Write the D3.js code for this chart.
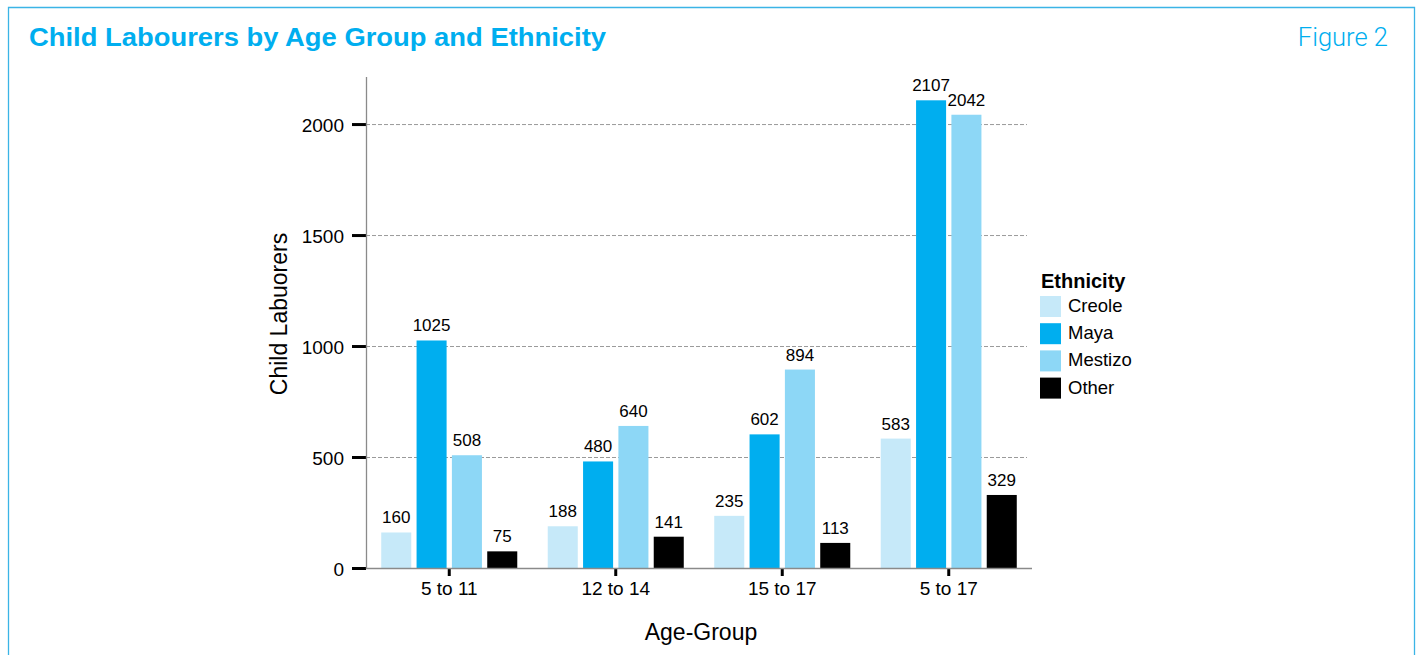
<!DOCTYPE html>
<html>
<head>
<meta charset="utf-8">
<script src="https://cdn.jsdelivr.net/npm/d3@7"></script>
<style>
  body { margin: 0; background: #fff; }
  svg { display: block; font-family: "Liberation Sans", Arial, Helvetica, sans-serif; }
</style>
</head>
<body>
<svg></svg>
<script>
var ageGroups = ["5 to 11", "12 to 14", "15 to 17", "5 to 17"];
var ethnicities = ["Creole", "Maya", "Mestizo", "Other"];
var creole = [160, 188, 235, 583];
var maya = [1025, 480, 602, 2107];
var mestizo = [508, 640, 894, 2042];
var other = [75, 141, 113, 329];
var yTicks = [0, 500, 1000, 1500, 2000];
var colors = ["#c6e9f9", "#00aeef", "#8dd7f6", "#000000"];

var series = [creole, maya, mestizo, other];
var data = ageGroups.map((g, i) => ({
    group: g,
    values: ethnicities.map((e, j) => ({ key: e, value: series[j][i] }))
}));

var width = 1422,
    height = 655,
    blue = "#00aeef";

var svg = d3.select("svg")
    .attr("width", width)
    .attr("height", height);

// frame
svg.append("path")
    .attr("d", "M8.5,660 V7.5 H1414.5 V660")
    .attr("fill", "none")
    .attr("stroke", "#3bb4e6")
    .attr("stroke-width", 1.3);

svg.append("text")
    .attr("x", 29)
    .attr("y", 46)
    .attr("fill", blue)
    .attr("font-size", 26)
    .attr("font-weight", "bold")
    .attr("textLength", 577)
    .attr("lengthAdjust", "spacingAndGlyphs")
    .text("Child Labourers by Age Group and Ethnicity");

svg.append("text")
    .attr("x", 1388)
    .attr("y", 46)
    .attr("text-anchor", "end")
    .attr("fill", blue)
    .attr("font-size", 25.5)
    .style("font-family", "Roboto, 'Liberation Sans', sans-serif")
    .attr("font-weight", 300)
    .text("Figure 2");

var x0 = d3.scaleBand()
    .domain(ageGroups)
    .range([366, 1032])
    .paddingInner(0.183)
    .paddingOuter(0.0915);

var x1 = d3.scaleBand()
    .domain(ethnicities)
    .range([0, x0.bandwidth()])
    .paddingInner(0.15);

var y = d3.scaleLinear()
    .domain([0, 2212])
    .range([568, 77]);

var color = d3.scaleOrdinal()
    .domain(ethnicities)
    .range(colors);

// gridlines
svg.append("g")
    .selectAll("line")
    .data(yTicks.slice(1))
    .enter().append("line")
    .attr("x1", 366)
    .attr("x2", 1027)
    .attr("y1", d => y(d) + 0.5)
    .attr("y2", d => y(d) + 0.5)
    .attr("stroke", "#9a9a9a")
    .attr("stroke-width", 1)
    .attr("stroke-dasharray", "4,2");

// y axis
var yAxis = svg.append("g")
    .attr("transform", "translate(366,0)")
    .call(d3.axisLeft(y).tickValues(yTicks).tickFormat(d3.format("d")).tickSize(14).tickPadding(8));
yAxis.select(".domain").remove();
yAxis.selectAll(".tick line").attr("stroke", "#000").attr("stroke-width", 3);
yAxis.selectAll(".tick text")
    .attr("font-size", 19)
    .attr("font-family", "'Liberation Sans', Arial, sans-serif")
    .attr("fill", "#000")
    .attr("dy", "0.4em");

svg.append("line")
    .attr("x1", 366.5).attr("x2", 366.5)
    .attr("y1", 77).attr("y2", 569)
    .attr("stroke", "#8a8a8a")
    .attr("stroke-width", 1.3);

// x axis
var xAxis = svg.append("g")
    .attr("transform", "translate(0,568)")
    .call(d3.axisBottom(x0).tickSize(8).tickPadding(6));
xAxis.select(".domain").remove();
xAxis.selectAll(".tick line").attr("stroke", "#000").attr("stroke-width", 3);
xAxis.selectAll(".tick text")
    .attr("font-size", 19)
    .attr("font-family", "'Liberation Sans', Arial, sans-serif")
    .attr("fill", "#000");

// bars
var groups = svg.append("g")
    .selectAll("g")
    .data(data)
    .enter().append("g")
    .attr("transform", d => "translate(" + x0(d.group) + ",0)");

groups.selectAll("rect")
    .data(d => d.values)
    .enter().append("rect")
    .attr("x", d => x1(d.key))
    .attr("y", d => y(d.value))
    .attr("width", x1.bandwidth())
    .attr("height", d => y(0) - y(d.value))
    .attr("fill", d => color(d.key));

groups.selectAll("text")
    .data(d => d.values)
    .enter().append("text")
    .attr("x", d => x1(d.key) + x1.bandwidth() / 2)
    .attr("y", d => y(d.value) - 9)
    .attr("text-anchor", "middle")
    .attr("font-size", 17)
    .attr("fill", "#000")
    .text(d => d.value);

// baseline drawn over bars
svg.append("line")
    .attr("x1", 366).attr("x2", 1032)
    .attr("y1", 568.5).attr("y2", 568.5)
    .attr("stroke", "#8a8a8a")
    .attr("stroke-width", 1.3);

// axis titles
svg.append("text")
    .attr("transform", "translate(287,314) rotate(-90)")
    .attr("text-anchor", "middle")
    .attr("font-size", 23)
    .attr("fill", "#000")
    .text("Child Labuorers");

svg.append("text")
    .attr("x", 701)
    .attr("y", 640)
    .attr("text-anchor", "middle")
    .attr("font-size", 23)
    .attr("fill", "#000")
    .text("Age-Group");

// legend
var legend = svg.append("g")
    .attr("transform", "translate(1040,0)");

legend.append("text")
    .attr("x", 1)
    .attr("y", 288)
    .attr("font-size", 20)
    .attr("font-weight", "bold")
    .attr("fill", "#000")
    .text("Ethnicity");

var items = legend.selectAll("g.item")
    .data(ethnicities)
    .enter().append("g")
    .attr("class", "item")
    .attr("transform", (d, i) => "translate(0," + (296 + i * 27.2) + ")");

items.append("rect")
    .attr("width", 21)
    .attr("height", 21)
    .attr("fill", d => color(d));

items.append("text")
    .attr("x", 28)
    .attr("y", 16)
    .attr("font-size", 18.5)
    .attr("fill", "#000")
    .text(d => d);
</script>
</body>
</html>
